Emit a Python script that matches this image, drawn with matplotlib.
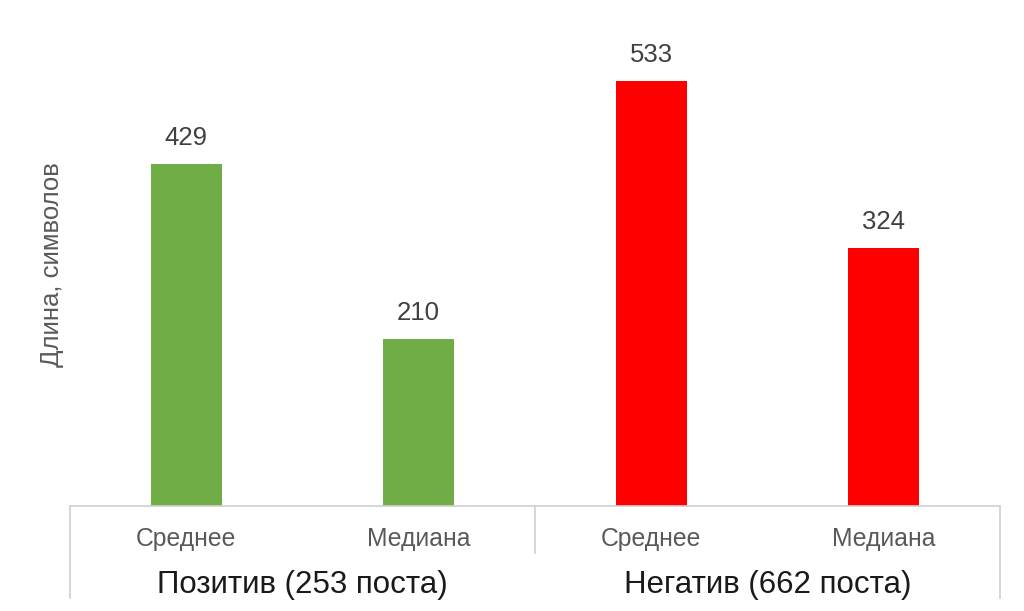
import matplotlib
matplotlib.use("Agg")
import matplotlib.pyplot as plt
import matplotlib.transforms as mtransforms

plt.rcParams['font.family'] = ['Liberation Sans', 'DejaVu Sans']

categories = ["Среднее", "Медиана", "Среднее", "Медиана"]
values = [429, 210, 533, 324]
groups = ["Позитив (253 поста)", "Негатив (662 поста)"]
colors = ["#70AD47", "#70AD47", "#FF0000", "#FF0000"]
ylabel = "Длина, символов"

W, H = 1024, 611
fig = plt.figure(figsize=(W / 100, H / 100), dpi=100)
left, right, bottom, top = 70, 1000, 506, 28
ax = fig.add_axes([left / W, (H - bottom) / H, (right - left) / W, (bottom - top) / H])

x = list(range(len(values)))
bars = ax.bar(x, values, width=0.305, color=colors, zorder=2)
ax.set_xlim(-0.5, len(values) - 0.5)
ax.set_ylim(0, 600)

for xi, v in zip(x, values):
    ax.annotate(str(v), (xi, v), xytext=(0, 10), textcoords="offset points",
                ha="center", va="bottom", fontsize=18.5, color="#404040")

for s in ["left", "right", "top"]:
    ax.spines[s].set_visible(False)
ax.spines["bottom"].set_color("#d0d0d0")
ax.spines["bottom"].set_linewidth(1.2)
ax.set_yticks([])
ax.set_xticks(x)
ax.set_xticklabels(categories, fontsize=17.8, color="#595959")
ax.tick_params(axis="x", length=0, pad=15)

trans = mtransforms.blended_transform_factory(ax.transData, ax.transAxes)
ah = bottom - top
full = -(598 - bottom) / ah
half = -(553 - bottom) / ah
for xs, yb in [(-0.5, full), (1.5, half), (3.5, full)]:
    ax.plot([xs, xs], [0, yb], color="#d0d0d0", lw=1.2, transform=trans, clip_on=False)

for gi, g in enumerate(groups):
    ax.text(gi * 2 + 0.5, -(585 - bottom) / ah, g, transform=trans, ha="center", va="center",
            fontsize=22.5, color="#1a1a1a")

fig.text(52 / W, (H - 265) / H, ylabel, rotation=90, ha="center", va="center",
         fontsize=18.5, color="#595959")

fig.savefig("out.png", dpi=100, facecolor="white")
